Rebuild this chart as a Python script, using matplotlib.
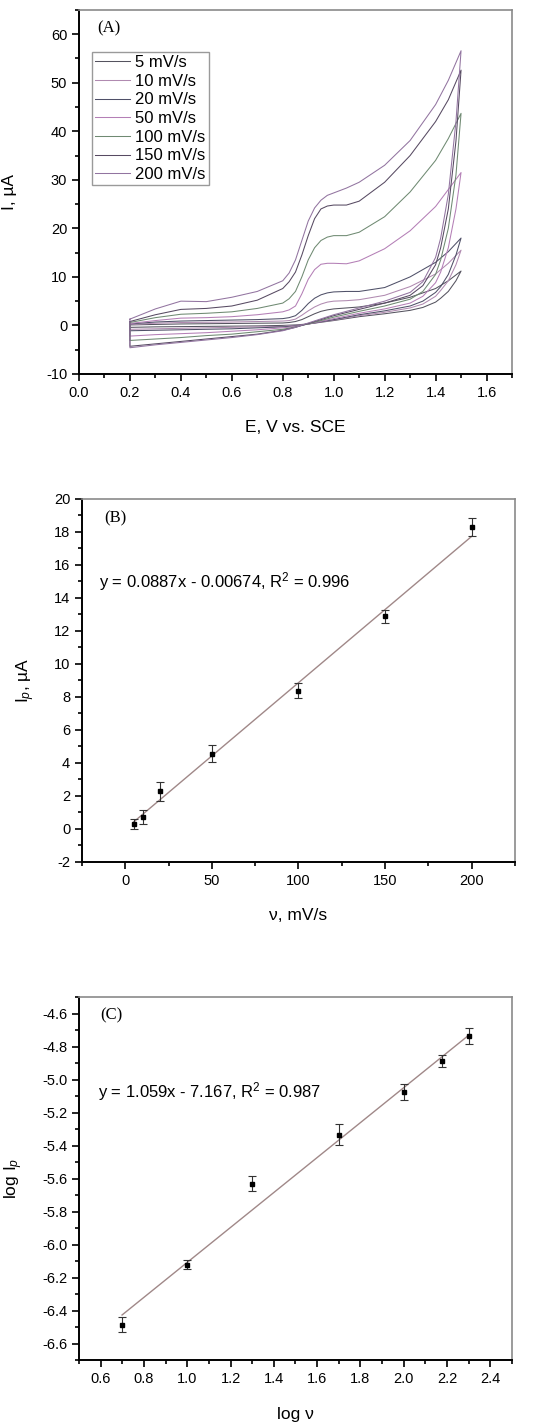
import numpy as np
import matplotlib
matplotlib.use('Agg')
import matplotlib.pyplot as plt
from matplotlib.ticker import MultipleLocator, FormatStrFormatter

plt.rcParams['font.family'] = ['Liberation Sans', 'DejaVu Sans']
plt.rcParams['mathtext.fontset'] = 'custom'
plt.rcParams['mathtext.rm'] = 'Liberation Sans'
plt.rcParams['mathtext.it'] = 'Liberation Sans:italic'
plt.rcParams['axes.unicode_minus'] = False

# ---- panel A: cyclic voltammograms ----
scan_labels = ['5 mV/s', '10 mV/s', '20 mV/s', '50 mV/s', '100 mV/s', '150 mV/s', '200 mV/s']
scan_colors = ['#55535f', '#b08ab0', '#4f5068', '#b47fb6', '#6f8a72', '#574a62', '#9274a0']

E_fwd = [0.2, 0.3, 0.4, 0.5, 0.6, 0.7, 0.8, 0.825, 0.85, 0.875, 0.9, 0.925, 0.95, 0.975,
         1.0, 1.05, 1.1, 1.2, 1.3, 1.4, 1.45, 1.5]
I_fwd_5 = [0.1, 0.2, 0.3, 0.35, 0.4, 0.45, 0.5, 0.6, 0.8, 1.2, 1.8, 2.4, 2.9, 3.2,
           3.4, 3.6, 3.8, 4.6, 5.8, 7.6, 9.2, 11.2]
I_fwd_10 = [0.2, 0.45, 0.6, 0.65, 0.7, 0.8, 0.9, 1.0, 1.3, 2.1, 3.0, 3.8, 4.4, 4.8,
            5.0, 5.1, 5.3, 6.2, 8.0, 10.6, 12.8, 15.5]
I_fwd_20 = [0.3, 0.7, 0.9, 1.0, 1.1, 1.2, 1.4, 1.6, 2.0, 3.1, 4.5, 5.6, 6.3, 6.7,
            6.9, 7.0, 7.0, 7.8, 10.0, 13.0, 15.2, 18.0]
I_fwd_50 = [0.4, 1.0, 1.5, 1.6, 1.8, 2.2, 2.8, 3.2, 4.0, 6.5, 9.5, 11.5, 12.6, 12.8,
            12.8, 12.7, 13.3, 15.8, 19.5, 24.5, 28.0, 31.5]
I_fwd_100 = [0.6, 1.6, 2.3, 2.5, 2.8, 3.5, 4.6, 5.5, 7.0, 10.0, 13.5, 16.0, 17.5, 18.2,
             18.5, 18.5, 19.2, 22.4, 27.5, 34.0, 38.5, 43.7]
I_fwd_150 = [0.8, 2.2, 3.3, 3.5, 4.0, 5.2, 7.6, 9.0, 11.0, 14.5, 18.5, 22.0, 24.0, 24.6,
             24.8, 24.8, 25.6, 29.5, 35.0, 42.0, 46.5, 52.6]
I_fwd_200 = [1.3, 3.4, 5.0, 4.9, 5.8, 7.0, 9.2, 10.8, 13.5, 17.5, 21.5, 24.2, 25.8, 26.8,
             27.3, 28.3, 29.5, 33.0, 38.1, 45.5, 50.5, 56.6]

E_rev = [1.5, 1.48, 1.45, 1.42, 1.4, 1.35, 1.3, 1.2, 1.1, 1.0, 0.9, 0.85, 0.8, 0.7, 0.6, 0.5, 0.4, 0.3, 0.2]
I_rev_5 = [11.2, 9.2, 7.0, 5.6, 4.8, 3.7, 3.1, 2.4, 1.8, 1.0, 0.3, 0.1, 0.0, -0.1, -0.15, -0.2, -0.25, -0.3, -0.4]
I_rev_10 = [15.5, 12.5, 9.2, 7.2, 6.0, 4.4, 3.6, 2.7, 2.0, 1.1, 0.3, 0.0, -0.2, -0.3, -0.4, -0.5, -0.6, -0.7, -0.8]
I_rev_20 = [18.0, 14.5, 10.5, 8.0, 6.8, 5.0, 4.0, 3.0, 2.2, 1.2, 0.3, -0.1, -0.3, -0.5, -0.7, -0.8, -0.9, -1.0, -1.1]
I_rev_50 = [31.5, 24.0, 16.0, 11.0, 8.8, 6.0, 4.6, 3.4, 2.5, 1.4, 0.3, -0.2, -0.5, -0.9, -1.2, -1.5, -1.7, -1.9, -2.2]
I_rev_100 = [43.7, 31.0, 20.0, 13.5, 10.5, 7.0, 5.4, 4.0, 2.9, 1.7, 0.3, -0.3, -0.8, -1.3, -1.8, -2.1, -2.5, -2.8, -3.1]
I_rev_150 = [52.6, 38.0, 24.0, 16.0, 12.5, 8.2, 6.2, 4.6, 3.3, 2.0, 0.4, -0.4, -1.0, -1.8, -2.3, -2.8, -3.3, -3.8, -4.3]
I_rev_200 = [56.6, 42.0, 27.0, 18.0, 14.0, 9.0, 6.8, 5.0, 3.6, 2.2, 0.5, -0.4, -1.1, -1.9, -2.5, -3.0, -3.5, -4.0, -4.6]

I_fwd = [I_fwd_5, I_fwd_10, I_fwd_20, I_fwd_50, I_fwd_100, I_fwd_150, I_fwd_200]
I_rev = [I_rev_5, I_rev_10, I_rev_20, I_rev_50, I_rev_100, I_rev_150, I_rev_200]

# ---- panel B: peak current vs scan rate ----
v = [5, 10, 20, 50, 100, 150, 200]
Ip = [0.28, 0.73, 2.28, 4.57, 8.38, 12.9, 18.28]
Ip_err = [0.3, 0.42, 0.57, 0.5, 0.47, 0.4, 0.55]
slope_b, icpt_b = 0.0887, -0.00674

# ---- panel C: log Ip vs log v ----
log_v = [0.699, 1.0, 1.301, 1.699, 2.0, 2.176, 2.301]
log_Ip = [-6.487, -6.121, -5.631, -5.333, -5.077, -4.888, -4.735]
log_Ip_err = [0.045, 0.03, 0.045, 0.065, 0.048, 0.038, 0.049]
slope_c, icpt_c = 1.059, -7.167

fig = plt.figure(figsize=(5.5, 14.24), dpi=100)

def style_axes(ax):
    for s in ['left', 'bottom']:
        ax.spines[s].set_linewidth(1.4)
        ax.spines[s].set_color('black')
    for s in ['top', 'right']:
        ax.spines[s].set_linewidth(1.2)
        ax.spines[s].set_color('#8a8a8a')
    ax.tick_params(which='both', direction='out', top=False, right=False,
                   labelsize=10.5, width=1.2, colors='black')
    ax.tick_params(which='major', length=5)
    ax.tick_params(which='minor', length=3)

# A
axA = fig.add_axes([0.1436, 0.7374, 0.7873, 0.2556])
for i in range(len(scan_labels)):
    E = np.concatenate([E_fwd, E_rev, E_fwd[:1]])
    I = np.concatenate([I_fwd[i], I_rev[i], I_fwd[i][:1]])
    axA.plot(E, I, color=scan_colors[i], lw=0.75, label=scan_labels[i])
axA.set_xlim(0, 1.7)
axA.set_ylim(-10, 65)
axA.xaxis.set_major_locator(MultipleLocator(0.2))
axA.xaxis.set_minor_locator(MultipleLocator(0.1))
axA.yaxis.set_major_locator(MultipleLocator(10))
axA.yaxis.set_minor_locator(MultipleLocator(5))
axA.xaxis.set_major_formatter(FormatStrFormatter('%.1f'))
style_axes(axA)
axA.set_xlabel('E, V vs. SCE', fontsize=12.5)
axA.set_ylabel('I, µA', fontsize=12.5)
axA.xaxis.set_label_coords(0.5, -0.126)
axA.yaxis.set_label_coords(-0.143, 0.5)
axA.text(0.07, 61.2, '(A)', family='Liberation Serif', fontsize=12, va='center')
leg = axA.legend(loc='upper left', bbox_to_anchor=(0.03, 0.885), borderaxespad=0,
                 fontsize=12, handlelength=2.1, handletextpad=0.3, labelspacing=0.22,
                 borderpad=0.2, fancybox=False, framealpha=1)
leg.get_frame().set_edgecolor('#9a9a9a')
leg.get_frame().set_linewidth(1.0)

# B
axB = fig.add_axes([0.149, 0.3947, 0.7873, 0.2549])
xb = np.array([v[0], v[-1]])
axB.plot(xb, slope_b * xb + icpt_b, color='#a08888', lw=1.0)
axB.errorbar(v, Ip, yerr=Ip_err, fmt='s', color='black', ms=3.5, ecolor='#333333',
             elinewidth=0.8, capsize=3, capthick=0.8)
axB.set_xlim(-25, 225)
axB.set_ylim(-2, 20)
axB.xaxis.set_major_locator(MultipleLocator(50))
axB.xaxis.set_minor_locator(MultipleLocator(25))
axB.yaxis.set_major_locator(MultipleLocator(2))
axB.yaxis.set_minor_locator(MultipleLocator(1))
style_axes(axB)
axB.set_xlabel('ν, mV/s', fontsize=12.5)
axB.set_ylabel(r'I$_p$, µA', fontsize=12.5)
axB.xaxis.set_label_coords(0.5, -0.127)
axB.yaxis.set_label_coords(-0.104, 0.5)
axB.text(-12, 18.8, '(B)', family='Liberation Serif', fontsize=12, va='center')
axB.text(-15, 15.0, r'y = 0.0887x - 0.00674, R$^2$ = 0.996', fontsize=12, va='center')

# C
axC = fig.add_axes([0.1436, 0.0449, 0.7873, 0.2549])
xc = np.array([log_v[0], log_v[-1]])
axC.plot(xc, slope_c * xc + icpt_c, color='#a08888', lw=1.0)
axC.errorbar(log_v, log_Ip, yerr=log_Ip_err, fmt='s', color='black', ms=3.5, ecolor='#333333',
             elinewidth=0.8, capsize=3, capthick=0.8)
axC.set_xlim(0.5, 2.5)
axC.set_ylim(-6.7, -4.5)
axC.xaxis.set_major_locator(MultipleLocator(0.2))
axC.xaxis.set_minor_locator(MultipleLocator(0.1))
axC.yaxis.set_major_locator(MultipleLocator(0.2))
axC.yaxis.set_minor_locator(MultipleLocator(0.1))
axC.xaxis.set_major_formatter(FormatStrFormatter('%.1f'))
axC.yaxis.set_major_formatter(FormatStrFormatter('%.1f'))
style_axes(axC)
axC.set_xlabel('log ν', fontsize=12.5)
axC.set_ylabel(r'log I$_p$', fontsize=12.5)
axC.xaxis.set_label_coords(0.5, -0.13)
axC.yaxis.set_label_coords(-0.125, 0.5)
axC.text(0.597, -4.61, '(C)', family='Liberation Serif', fontsize=12, va='center')
axC.text(0.587, -5.07, r'y = 1.059x - 7.167, R$^2$ = 0.987', fontsize=12, va='center')

fig.savefig('out.png', dpi=100)
